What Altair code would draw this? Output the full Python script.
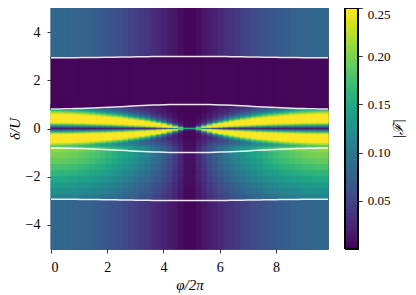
import altair as alt
import pandas as pd
import numpy as np

# ---------------- data (values of |F| in thousandths) ----------------
PHI_MAX = 9.85          # right end of phi/2pi axis
N_HALF = 25             # columns in the left half (mirrored about the centre)

# region delta > upper outer line (per column, phi from 0 towards centre)
top_vals = [83, 83, 82, 81, 80, 78, 76, 74, 71, 69, 66, 62, 59, 55, 51, 47, 42, 38, 33, 28, 23, 18, 13, 8, 3]
# region delta < lower outer line
bottom_vals = [83, 83, 82, 81, 80, 78, 76, 74, 71, 69, 66, 62, 59, 55, 51, 47, 42, 38, 33, 28, 23, 18, 13, 8, 3]
# dark band between inner and outer upper lines
gap_vals = [3, 3, 3, 3, 3, 3, 3, 3, 3, 3, 3, 3, 3, 3, 3, 3, 3, 3, 3, 3, 3, 3, 3, 3, 3]

# white contour lines (|delta| position per column)
b_in = [0.810, 0.812, 0.815, 0.819, 0.825, 0.832, 0.840, 0.849, 0.859, 0.870, 0.881, 0.893, 0.905,
        0.917, 0.929, 0.940, 0.951, 0.961, 0.970, 0.978, 0.985, 0.991, 0.995, 0.998, 1.0]
b_out = [2.94, 2.94, 2.94, 2.94, 2.94, 2.95, 2.95, 2.95, 2.95, 2.96, 2.96, 2.96, 2.97,
         2.97, 2.97, 2.98, 2.98, 2.98, 2.99, 2.99, 2.99, 2.99, 2.99, 2.99, 2.99]

# core band, delta = 0.025 ... 0.975 (upper side)
core_up = [
    [17, 18, 18, 18, 18, 19, 19, 20, 21, 21, 22, 23, 24, 26, 28, 30, 32, 36, 42, 51, 65, 95, 125, 180, 150],
    [57, 58, 59, 60, 61, 63, 64, 67, 69, 72, 75, 80, 85, 92, 103, 113, 127, 144, 169, 202, 234, 250, 250, 180, 25],
    [110, 111, 113, 115, 118, 121, 125, 130, 136, 143, 150, 160, 169, 181, 198, 210, 225, 241, 248, 250, 250, 250, 195, 55, 9],
    [170, 172, 174, 176, 181, 186, 191, 199, 205, 211, 218, 226, 234, 241, 246, 250, 250, 250, 250, 250, 250, 196, 86, 27, 5],
    [220, 222, 224, 226, 230, 234, 238, 241, 243, 245, 247, 250, 250, 250, 250, 250, 250, 250, 250, 250, 197, 109, 46, 17, 4],
    [246, 246, 247, 247, 248, 249, 250, 250, 250, 250, 250, 250, 250, 250, 250, 250, 250, 250, 238, 189, 125, 63, 31, 12, 3],
    [250, 250, 250, 250, 250, 250, 250, 250, 250, 250, 250, 250, 250, 250, 250, 250, 250, 228, 182, 129, 82, 45, 22, 9, 3],
    [250, 250, 250, 250, 250, 250, 250, 250, 250, 250, 250, 250, 250, 250, 250, 239, 213, 177, 131, 88, 54, 33, 18, 7, 3],
    [250, 250, 250, 250, 250, 250, 250, 250, 250, 250, 250, 250, 250, 245, 222, 200, 166, 133, 94, 64, 44, 27, 15, 6, 3],
    [250, 250, 250, 250, 250, 250, 250, 250, 250, 250, 250, 240, 230, 210, 183, 158, 128, 99, 72, 50, 34, 21, 12, 5, 3],
    [250, 250, 250, 250, 250, 250, 250, 250, 246, 238, 228, 210, 196, 174, 147, 124, 98, 78, 53, 40, 29, 18, 10, 5, 3],
    [250, 250, 250, 250, 248, 246, 240, 234, 222, 210, 196, 177, 160, 142, 116, 97, 79, 60, 46, 34, 24, 16, 9, 4, 3],
    [243, 241, 239, 237, 231, 224, 217, 205, 192, 179, 164, 147, 133, 114, 92, 80, 62, 50, 38, 29, 20, 14, 8, 4, 3],
    [222, 219, 215, 212, 205, 197, 189, 177, 163, 151, 138, 120, 109, 92, 78, 65, 52, 43, 33, 25, 18, 12, 7, 4, 3],
    [197, 194, 190, 186, 178, 170, 161, 150, 139, 126, 115, 100, 89, 78, 64, 53, 46, 36, 29, 21, 17, 10, 6, 3, 3],
    [172, 168, 164, 160, 154, 147, 139, 128, 117, 106, 96, 84, 77, 65, 53, 48, 39, 33, 26, 19, 15, 9, 6, 3, 3],
    [3, 3, 3, 3, 133, 125, 118, 109, 99, 89, 82, 72, 65, 55, 48, 42, 34, 30, 22, 18, 13, 9, 5, 3, 3],
    [3, 3, 3, 3, 3, 3, 3, 3, 3, 3, 71, 61, 54, 49, 43, 36, 31, 26, 20, 16, 12, 8, 5, 3, 3],
    [3, 3, 3, 3, 3, 3, 3, 3, 3, 3, 3, 3, 3, 3, 37, 33, 28, 23, 19, 15, 10, 7, 5, 3, 3],
    [3, 3, 3, 3, 3, 3, 3, 3, 3, 3, 3, 3, 3, 3, 3, 3, 3, 3, 3, 14, 10, 7, 5, 3, 3],
]

# core band, delta = -0.025 ... -0.975 (lower side)
core_dn = [
    [17, 18, 18, 18, 18, 19, 19, 20, 21, 21, 22, 23, 24, 26, 28, 30, 32, 36, 42, 51, 65, 95, 125, 180, 150],
    [57, 58, 59, 60, 61, 63, 64, 67, 69, 72, 75, 80, 85, 92, 103, 113, 127, 144, 169, 202, 234, 250, 250, 180, 25],
    [110, 111, 113, 115, 118, 121, 125, 130, 136, 143, 150, 160, 169, 181, 198, 210, 225, 241, 248, 250, 250, 250, 195, 55, 9],
    [170, 172, 174, 176, 181, 186, 191, 199, 205, 211, 218, 226, 234, 241, 246, 250, 250, 250, 250, 250, 250, 196, 86, 27, 5],
    [220, 222, 224, 226, 230, 234, 238, 241, 243, 245, 247, 250, 250, 250, 250, 250, 250, 250, 250, 250, 197, 109, 46, 17, 4],
    [246, 246, 247, 247, 248, 249, 250, 250, 250, 250, 250, 250, 250, 250, 250, 250, 250, 250, 238, 189, 125, 63, 31, 12, 3],
    [250, 250, 250, 250, 250, 250, 250, 250, 250, 250, 250, 250, 250, 250, 250, 250, 250, 228, 182, 129, 82, 45, 22, 10, 4],
    [250, 250, 250, 250, 250, 250, 250, 250, 250, 250, 250, 250, 250, 250, 250, 239, 213, 177, 131, 88, 54, 33, 19, 12, 4],
    [250, 250, 250, 250, 250, 250, 250, 250, 250, 250, 250, 250, 250, 245, 222, 200, 166, 133, 94, 64, 44, 29, 21, 13, 5],
    [250, 250, 250, 250, 250, 250, 250, 250, 250, 250, 250, 240, 230, 210, 183, 158, 128, 99, 72, 50, 40, 32, 24, 15, 5],
    [250, 250, 250, 250, 250, 250, 250, 250, 246, 238, 228, 210, 196, 174, 147, 124, 98, 78, 59, 52, 44, 36, 26, 17, 6],
    [250, 250, 250, 250, 248, 246, 240, 234, 222, 210, 196, 177, 160, 142, 116, 97, 79, 73, 65, 57, 49, 40, 29, 18, 7],
    [243, 241, 239, 237, 231, 224, 217, 205, 192, 179, 164, 147, 133, 114, 98, 92, 85, 79, 71, 62, 53, 43, 32, 20, 7],
    [222, 219, 215, 212, 205, 197, 189, 177, 163, 151, 138, 125, 119, 112, 106, 100, 92, 86, 76, 67, 58, 47, 34, 22, 8],
    [197, 194, 190, 186, 178, 170, 161, 155, 151, 146, 141, 136, 129, 122, 116, 109, 100, 94, 83, 73, 63, 51, 37, 24, 9],
    [185, 185, 183, 181, 179, 176, 172, 168, 165, 159, 154, 148, 141, 133, 126, 118, 109, 102, 91, 80, 68, 56, 41, 26, 9],
    [210, 210, 208, 206, 204, 200, 195, 191, 187, 181, 174, 168, 160, 151, 143, 134, 124, 116, 103, 90, 78, 63, 46, 29, 11],
    [212, 212, 210, 208, 206, 201, 197, 193, 189, 182, 176, 170, 161, 153, 144, 136, 125, 117, 104, 91, 78, 64, 47, 30, 11],
    [210, 210, 208, 206, 204, 200, 195, 191, 187, 181, 174, 168, 160, 151, 143, 134, 124, 116, 103, 90, 78, 63, 46, 29, 11],
    [207, 207, 205, 203, 201, 197, 193, 188, 184, 178, 172, 166, 157, 149, 141, 132, 122, 114, 101, 89, 77, 62, 46, 29, 10],
]

# region between lower inner line and lower outer line, delta = -1.0 ... -b_out
lower_edges = [-1.0, -1.25, -1.5, -1.75, -2.0, -2.25, -2.5, -2.75]
lower_rows = [
    [200, 200, 198, 196, 194, 190, 186, 182, 178, 172, 166, 160, 152, 144, 136, 128, 118, 110, 98, 86, 74, 60, 44, 28, 10],
    [190, 190, 188, 186, 184, 181, 177, 173, 169, 163, 158, 152, 144, 137, 129, 122, 112, 105, 93, 82, 70, 57, 42, 27, 10],
    [178, 178, 176, 174, 173, 169, 166, 162, 158, 153, 148, 142, 135, 128, 121, 114, 105, 98, 87, 77, 66, 53, 39, 25, 9],
    [164, 164, 162, 161, 159, 156, 153, 149, 146, 141, 136, 131, 125, 118, 112, 105, 97, 90, 80, 71, 61, 49, 36, 23, 8],
    [150, 150, 149, 147, 146, 143, 140, 137, 134, 129, 125, 120, 114, 108, 102, 96, 89, 83, 74, 65, 56, 45, 33, 21, 8],
    [137, 137, 136, 134, 133, 130, 127, 125, 122, 118, 114, 110, 104, 99, 93, 88, 81, 75, 67, 59, 51, 41, 30, 19, 7],
    [124, 124, 123, 122, 120, 118, 115, 113, 110, 107, 103, 99, 94, 89, 84, 79, 73, 68, 61, 53, 46, 37, 27, 17, 6],
    [112, 112, 111, 110, 109, 106, 104, 102, 100, 96, 93, 90, 85, 81, 76, 72, 66, 62, 55, 48, 41, 34, 25, 16, 6],
]

y_ticks = [-4, -2, 0, 2, 4]
x_ticks = [0, 2, 4, 6, 8]
cbar_ticks = [0.05, 0.10, 0.15, 0.20, 0.25]

# ---------------- build tables ----------------
dphi = (PHI_MAX / 2) / N_HALF
CORE_STEP = 0.05
cells = []


def add(j, d0, d1, v):
    x0 = j * dphi
    x1 = x0 + dphi
    cells.append(dict(x0=x0, x1=x1, y0=d0, y1=d1, v=v / 1000))
    cells.append(dict(x0=PHI_MAX - x1, x1=PHI_MAX - x0, y0=d0, y1=d1, v=v / 1000))


for j in range(N_HALF):
    add(j, b_out[j], 5.0, top_vals[j])
    add(j, 1.0, b_out[j], gap_vals[j])
    for k in range(20):
        add(j, k * CORE_STEP, (k + 1) * CORE_STEP, core_up[k][j])
        add(j, -(k + 1) * CORE_STEP, -k * CORE_STEP, core_dn[k][j])
    for k in range(len(lower_edges)):
        top_e = lower_edges[k]
        bot_e = lower_edges[k + 1] if k + 1 < len(lower_edges) else -b_out[j]
        add(j, bot_e, top_e, lower_rows[k][j])
    add(j, -5.0, -b_out[j], bottom_vals[j])

df = pd.DataFrame(cells)

lines = []
for name, arr, sign in [("in_up", b_in, 1), ("in_dn", b_in, -1), ("out_up", b_out, 1), ("out_dn", b_out, -1)]:
    pts = [(0.0, arr[0])]
    for j in range(N_HALF):
        pts.append(((j + 0.5) * dphi, arr[j]))
    for j in reversed(range(N_HALF)):
        pts.append((PHI_MAX - (j + 0.5) * dphi, arr[j]))
    pts.append((PHI_MAX, arr[0]))
    for x, y in pts:
        lines.append(dict(line=name, x=x, y=sign * y))
ldf = pd.DataFrame(lines)

lev = np.linspace(0, 0.25, 101)
cbdf = pd.DataFrame(dict(c0=lev[:-1], c1=lev[1:], c=(lev[:-1] + lev[1:]) / 2))

# ---------------- chart ----------------
W, H = 277, 241
FONT = "Liberation Serif"


def cscale():
    return alt.Scale(scheme="viridis", domain=[0, 0.25], clamp=True)


def xscale():
    return alt.Scale(domain=[0, PHI_MAX], nice=False, zero=False)


def yscale():
    return alt.Scale(domain=[-5, 5], nice=False, zero=False)


def xaxis():
    return alt.Axis(values=x_ticks, title="φ/2π", titlePadding=3)


def yaxis():
    return alt.Axis(values=y_ticks, title="δ/U", orient="left", titleAngle=270,
                    titleX=-37, titleBaseline="middle")


heat = alt.Chart(df).mark_rect(strokeWidth=1.1).encode(
    x=alt.X("x0:Q", scale=xscale(), axis=xaxis()),
    x2="x1:Q",
    y=alt.Y("y0:Q", scale=yscale(), axis=yaxis()),
    y2="y1:Q",
    color=alt.Color("v:Q", scale=cscale(), legend=None),
    stroke=alt.Stroke("v:Q", scale=cscale(), legend=None),
)

contours = alt.Chart(ldf).mark_line(color="white", strokeWidth=1.5, opacity=0.9, clip=True).encode(
    x=alt.X("x:Q", scale=xscale(), axis=xaxis()),
    y=alt.Y("y:Q", scale=yscale(), axis=yaxis()),
    detail="line:N",
    order="x:Q",
)

CB_X0, CB_X1 = 294, 307.3
cbar = alt.Chart(cbdf).mark_rect(strokeWidth=1.0).encode(
    x=alt.value(CB_X0), x2=alt.value(CB_X1),
    y=alt.Y("c0:Q", scale=alt.Scale(domain=[0, 0.25], nice=False, zero=False),
            axis=alt.Axis(orient="right", offset=CB_X1 - W, values=cbar_ticks, format=".2f",
                          title="|ℱ|", titleAngle=270, titleX=40, titleBaseline="middle",
                          titleFontSize=14,
                          labelPadding=5, labelFontSize=13, labelFlush=True)),
    y2="c1:Q",
    color=alt.Color("c:Q", scale=cscale(), legend=None),
    stroke=alt.Stroke("c:Q", scale=cscale(), legend=None),
)
cbar_frame = alt.Chart(cbdf).mark_rect(filled=False, stroke="black", strokeWidth=0.8).encode(
    x=alt.value(CB_X0), x2=alt.value(CB_X1), y=alt.value(0), y2=alt.value(H),
)

chart = alt.layer(
    alt.layer(heat, contours),
    alt.layer(cbar, cbar_frame),
).resolve_scale(y="independent").properties(
    width=W, height=H,
    autosize=alt.AutoSizeParams(type="none"),
    padding={"left": 43, "top": 0, "right": 80, "bottom": 46},
).configure_view(
    stroke="black", strokeWidth=0.8,
).configure_axis(
    labelFont=FONT, labelFontSize=14, labelColor="black",
    titleFont=FONT, titleFontSize=15, titleFontStyle="italic", titleFontWeight="normal", titleColor="black",
    tickColor="black", tickWidth=0.8, tickSize=4, labelPadding=7,
    domain=False, grid=False,
)

chart.save("out.html", embed_options={"renderer": "svg", "actions": False})
